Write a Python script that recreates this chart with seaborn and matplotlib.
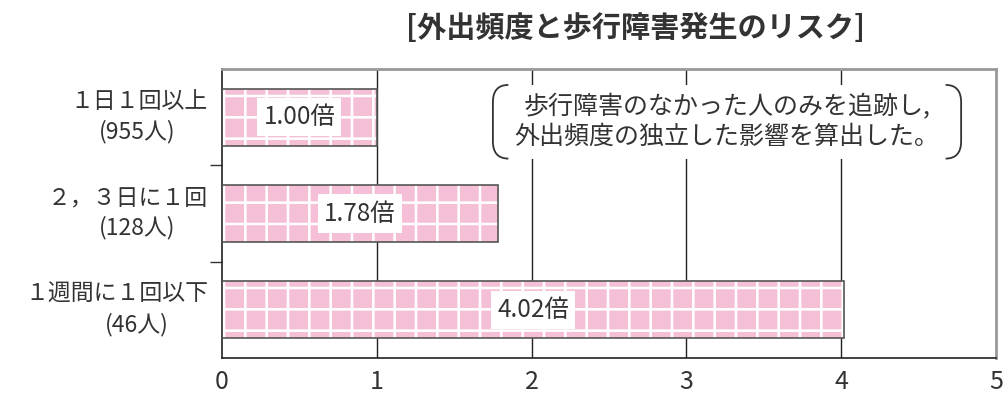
import matplotlib
matplotlib.use("Agg")
import matplotlib.pyplot as plt
import seaborn as sns
from matplotlib.patches import Rectangle
from matplotlib.path import Path
from matplotlib.patches import PathPatch

# data
cat_main = ["１日１回以上", "２，３日に１回", "１週間に１回以下"]
cat_n = ["(955人)", "(128人)", "(46人)"]
risk = [1.00, 1.78, 4.02]
bar_labels = ["1.00倍", "1.78倍", "4.02倍"]
x_ticks = [0, 1, 2, 3, 4, 5]

DPI = 128          # hatch cell size follows the dpi
S = 100 / DPI      # keep sizes as if drawn at 100 dpi

sns.set_style("white")
plt.rcParams['font.family'] = ['Noto Sans CJK JP', 'DejaVu Sans']
plt.rcParams['hatch.linewidth'] = 1.8 * S
plt.rcParams['hatch.color'] = 'white'

fig = plt.figure(figsize=(1005 / DPI, 399 / DPI), dpi=DPI)
ax = fig.add_axes([0.2209, 0.1028, 0.991 - 0.2209, 0.827 - 0.1028])

pink = "#f5bfd8"
text_col = "#333333"

# hatched pink bars
sns.barplot(x=risk, y=cat_main, orient="h", color=pink, width=0.59,
            saturation=1, ax=ax, zorder=2)
for p in ax.patches:
    p.set_hatch("+")
    p.set_edgecolor("white")
    p.set_linewidth(0)
# outlines
sns.barplot(x=risk, y=cat_main, orient="h", fill=False, width=0.59,
            ax=ax, zorder=3, edgecolor="#555555", linewidth=1.2 * S)

ax.set_xlim(0, 5)
ax.set_ylim(2.5, -0.5)
ax.set_xticks(x_ticks)
ax.set_xticklabels([str(t) for t in x_ticks], fontsize=18 * S, color=text_col)
ax.tick_params(axis='x', length=0, pad=8 * S)
ax.set_yticks([0.5, 1.5])
ax.set_yticklabels([])
ax.tick_params(axis='y', left=True, length=9 * S, width=1 * S, color="#333333")
ytr = ax.get_yaxis_transform()
for i, (main, n) in enumerate(zip(cat_main, cat_n)):
    ax.text(-0.018, i - 0.16, main, ha="right", va="center", fontsize=16.5 * S,
            color=text_col, transform=ytr)
    ax.text(-0.11, i + 0.15, n, ha="center", va="center", fontsize=16.5 * S,
            color=text_col, transform=ytr)
ax.set_xlabel("")
ax.set_ylabel("")

# vertical gridlines
for t in x_ticks[1:-1]:
    ax.axvline(t, color="#222222", lw=1 * S, zorder=1)

for s in ["left", "bottom"]:
    ax.spines[s].set_color("#222222")
    ax.spines[s].set_linewidth(1.2 * S)
for s in ["top", "right"]:
    ax.spines[s].set_color("#999999")
    ax.spines[s].set_linewidth(2 * S)

# value labels in white boxes
for i, (v, lab) in enumerate(zip(risk, bar_labels)):
    ax.text(v / 2, i, lab, ha="center", va="center", fontsize=17.5 * S,
            color=text_col, zorder=5,
            bbox=dict(boxstyle="square,pad=0.25", fc="white", ec="none"))

# note box
bx0, bx1, by0, by1 = 0.35, 0.955, 0.69, 0.945
ax.add_patch(Rectangle((bx0, by0), bx1 - bx0, by1 - by0,
                       transform=ax.transAxes, fc="white", ec="none", zorder=4))
def bracket(x, direction):
    r = 0.02
    verts = [(x + direction * r, by1), (x, by1), (x, by1 - 0.06),
             (x, by0 + 0.06), (x, by0), (x + direction * r, by0)]
    codes = [Path.MOVETO, Path.CURVE3, Path.CURVE3, Path.LINETO, Path.CURVE3, Path.CURVE3]
    ax.add_patch(PathPatch(Path(verts, codes), transform=ax.transAxes,
                           fc="none", ec="#333333", lw=1.3 * S, zorder=5))
bracket(bx0, 1)
bracket(bx1, -1)
ax.text((bx0 + bx1) / 2, (by0 + by1) / 2,
        "歩行障害のなかった人のみを追跡し,\n外出頻度の独立した影響を算出した。",
        ha="center", va="center", fontsize=18 * S, color=text_col,
        linespacing=1.2, transform=ax.transAxes, zorder=6)

fig.text(0.632, 0.93, "[外出頻度と歩行障害発生のリスク]", ha="center", va="center",
         fontsize=21 * S, fontweight="bold", color=text_col)

fig.savefig("out.png", dpi=DPI)
